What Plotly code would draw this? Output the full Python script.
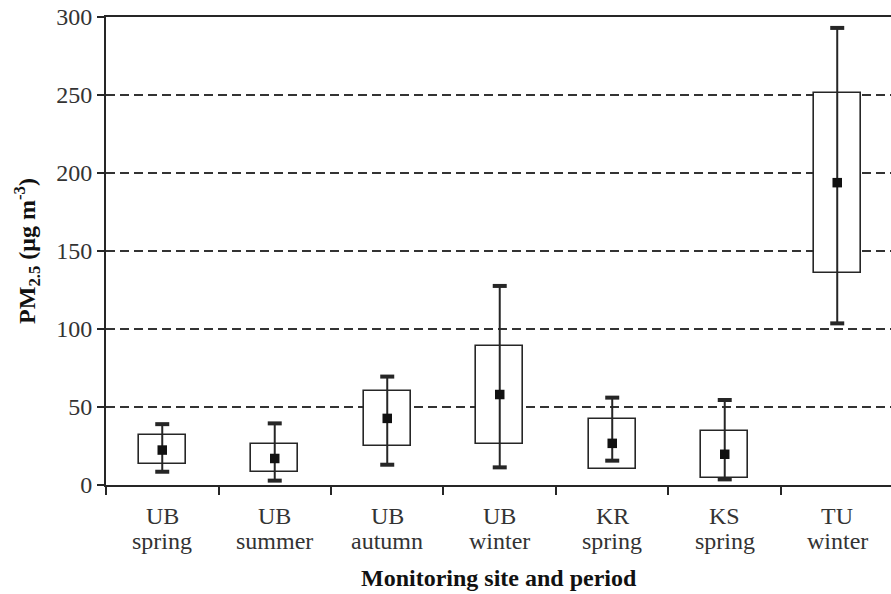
import plotly.graph_objects as go

# PM2.5 summary statistics per monitoring site and period
sites = ["UB", "UB", "UB", "UB", "KR", "KS", "TU"]
periods = ["spring", "summer", "autumn", "winter", "spring", "spring", "winter"]
categories = [f"{s} {p}" for s, p in zip(sites, periods)]

box_low = [13.5, 8.5, 25.0, 26.0, 10.0, 4.7, 135.7]
box_high = [32.0, 26.0, 60.0, 89.3, 42.0, 34.6, 251.0]
whisker_low = [8.5, 2.8, 13.0, 11.3, 15.6, 3.6, 103.6]
whisker_high = [39.0, 39.5, 69.5, 127.6, 56.0, 54.5, 293.0]
means = [22.4, 17.0, 42.7, 58.0, 26.7, 19.7, 193.8]

y_ticks = [0, 50, 100, 150, 200, 250, 300]

INK = "#262626"
FONT = "Liberation Serif"
SIZE = 24

fig = go.Figure()

# boxes: white-filled rectangles spanning the box range
fig.add_trace(go.Bar(
    x=categories,
    y=[h - l for h, l in zip(box_high, box_low)],
    base=box_low,
    width=0.42,
    marker=dict(color="white", line=dict(color=INK, width=1.6)),
    hoverinfo="skip",
))

# whisker stems and mean markers
fig.add_trace(go.Scatter(
    x=categories,
    y=means,
    mode="markers",
    marker=dict(symbol="square", size=9.5, color="#111111"),
    error_y=dict(
        type="data",
        symmetric=False,
        array=[h - m for h, m in zip(whisker_high, means)],
        arrayminus=[m - l for m, l in zip(means, whisker_low)],
        width=0,
        thickness=2,
        color=INK,
    ),
))

# whisker caps
fig.add_trace(go.Scatter(
    x=categories + categories,
    y=whisker_high + whisker_low,
    mode="markers",
    marker=dict(symbol="line-ew", size=10, line=dict(color=INK, width=4)),
    hoverinfo="skip",
))

# two-line category labels under the axis
for cat, s, p in zip(categories, sites, periods):
    fig.add_annotation(x=cat, xref="x", y=0, yref="paper", text=s,
                       showarrow=False, yanchor="middle", yshift=-31,
                       font=dict(family=FONT, size=SIZE, color="#333333"))
    fig.add_annotation(x=cat, xref="x", y=0, yref="paper", text=p,
                       showarrow=False, yanchor="middle", yshift=-56,
                       font=dict(family=FONT, size=SIZE, color="#333333"))

fig.add_annotation(x=0.5, xref="paper", y=0, yref="paper",
                   text="<b>Monitoring site and period</b>",
                   showarrow=False, yanchor="middle", yshift=-93,
                   font=dict(family=FONT, size=SIZE, color="#111111"))

fig.update_layout(
    width=891,
    height=594,
    margin=dict(l=106, r=0, t=17, b=109),
    paper_bgcolor="white",
    plot_bgcolor="white",
    showlegend=False,
    bargap=0,
    xaxis=dict(
        type="category",
        categoryorder="array",
        categoryarray=categories,
        range=[-0.5, 6.478],
        tickson="boundaries",
        ticks="outside",
        ticklen=8,
        tickwidth=1.6,
        tickcolor=INK,
        showticklabels=False,
        showgrid=False,
        showline=True,
        linecolor=INK,
        linewidth=1.8,
        mirror=True,
        zeroline=False,
    ),
    yaxis=dict(
        range=[0, 300],
        tickvals=y_ticks,
        ticks="outside",
        ticklen=7,
        tickwidth=1.6,
        tickcolor=INK,
        tickfont=dict(family=FONT, size=SIZE, color="#333333"),
        showgrid=True,
        gridcolor="#333333",
        gridwidth=1.6,
        griddash="9px,5px",
        showline=True,
        linecolor=INK,
        linewidth=1.8,
        zeroline=False,
        title=dict(
            text="<b>PM<sub>2.5</sub> (μg m<sup>-3</sup>)</b>",
            font=dict(family=FONT, size=SIZE, color="#111111"),
            standoff=14,
        ),
    ),
)

fig.write_html("out.html")
